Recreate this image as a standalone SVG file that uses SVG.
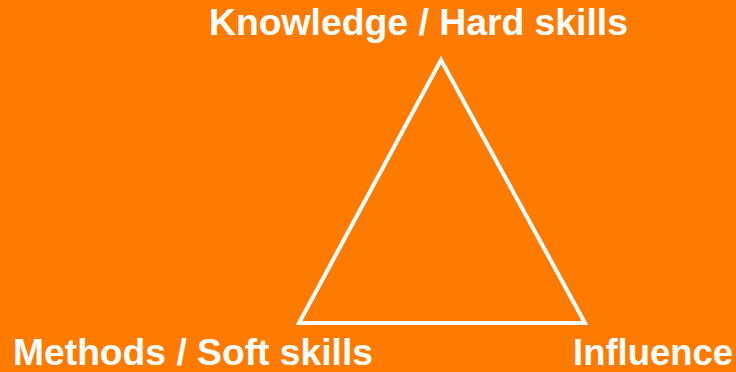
<svg xmlns="http://www.w3.org/2000/svg" width="736" height="372" viewBox="0 0 736 372">
<style>
.lbl{font-family:"Liberation Sans",Arial,sans-serif;font-weight:bold;font-size:36px;fill:#fff}
.edge{fill:none;stroke:#fff;stroke-width:4;stroke-linejoin:miter}
</style>
<rect width="736" height="372" fill="#FF7B00"/>
<g id="connectors">
<polygon class="edge" points="441,60 585,323 299,323"/>
</g>
<g id="node-knowledge"><text class="lbl" x="209" y="35" textLength="419" lengthAdjust="spacingAndGlyphs">Knowledge / Hard skills</text></g>
<g id="node-methods"><text class="lbl" x="13" y="365" textLength="360" lengthAdjust="spacingAndGlyphs">Methods / Soft skills</text></g>
<g id="node-influence"><text class="lbl" x="573" y="365" textLength="160" lengthAdjust="spacingAndGlyphs">Influence</text></g>
</svg>
